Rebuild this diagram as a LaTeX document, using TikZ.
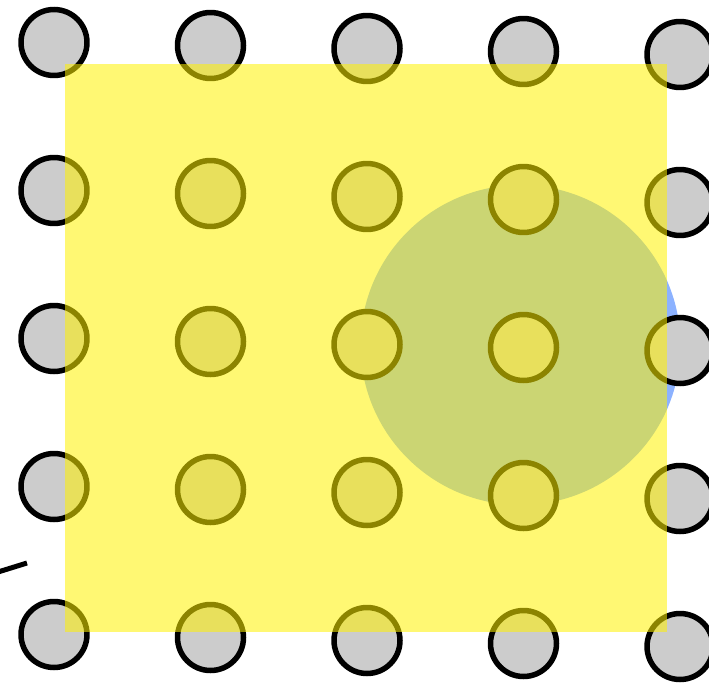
\documentclass[tikz,border=0pt]{standalone}
\usepackage{tikz}
\tikzset{
  grid-dot/.style={circle, draw=black, fill=black!20, line width=0.11cm,
    minimum size=1.32cm, inner sep=0pt},
  blue-disc/.style={circle, fill={rgb,255:red,140;green,178;blue,255},
    minimum size=6.4cm, inner sep=0pt},
  yellow-sheet/.style={fill=yellow, fill opacity=0.55}
}

\begin{document}
\begin{tikzpicture}[x=0.02cm, y=-0.02cm]
  \useasboundingbox (0,0) rectangle (709,682);

  % disc under the grid
  \node[blue-disc] (disc) at (520.5,345) {};

  % 5x5 grid, columns drift down a little
  \foreach \c in {0,...,4} {
    \foreach \r in {0,...,4} {
      \node[grid-dot] (dot-\r-\c) at ({54+156.5*\c},{42.5+148*\r+3*\c}) {};
    }
  }

  % stray stroke on the left
  \coordinate (stroke-a) at (-2,572);
  \coordinate (stroke-b) at (27,563);
  \draw[line width=0.1cm] (stroke-a) -- (stroke-b);

  % translucent sheet on top
  \fill[yellow-sheet] (65,64) rectangle (667,632);
\end{tikzpicture}
\end{document}
